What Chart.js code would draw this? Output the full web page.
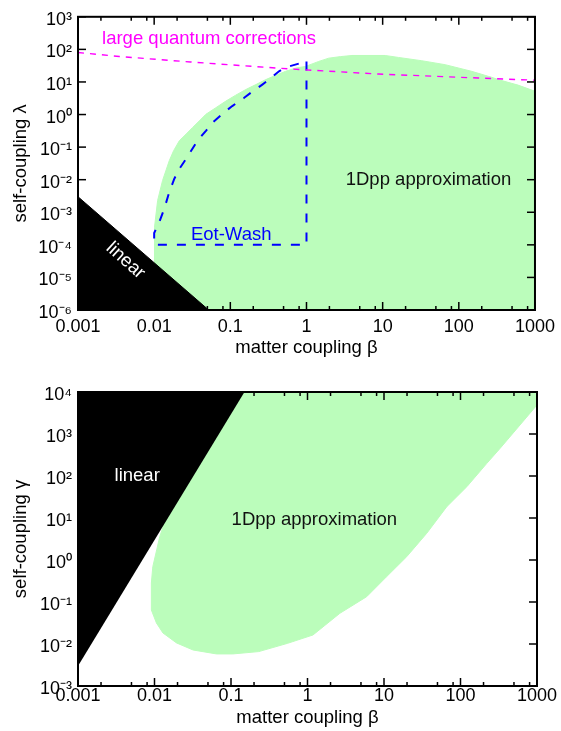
<!DOCTYPE html>
<html><head><meta charset="utf-8">
<script src="https://cdn.jsdelivr.net/npm/chart.js@4"></script>
<style>
html,body{margin:0;padding:0;background:#fff;}
#wrap{position:relative;width:561px;height:731px;overflow:hidden;}
canvas{position:absolute;left:0;}
#c1{top:0;} #c2{top:365px;}
</style></head><body>
<div id="wrap"><canvas id="c1" width="561" height="365"></canvas><canvas id="c2" width="561" height="366"></canvas></div>
<script>
// ---------- axis ticks ----------
const betaTicks = [0.001, 0.01, 0.1, 1, 10, 100, 1000];
const betaTickLabels = ['0.001', '0.01', '0.1', '1', '10', '100', '1000'];
const betaMinorFactors = [2, 5, 8];
const lambdaTicks = [1e-6, 1e-5, 1e-4, 1e-3, 1e-2, 1e-1, 1, 10, 100, 1000];
const lambdaTickLabels = ['10⁻⁶', '10⁻⁵', '10⁻⁴', '10⁻³', '10⁻²', '10⁻¹', '10⁰', '10¹', '10²', '10³'];
const gammaTicks = [1e-3, 1e-2, 1e-1, 1, 10, 100, 1000, 1e4];
const gammaTickLabels = ['10⁻³', '10⁻²', '10⁻¹', '10⁰', '10¹', '10²', '10³', '10⁴'];

// ---------- top panel (lambda) ----------
const linearTopBeta   = [0.001, 0.001, 0.052];
const linearTopLambda = [1e-6, 3e-3, 1e-6];

const dppTopBeta   = [0.0101, 0.0101, 0.0111, 0.0129, 0.0158, 0.018, 0.0214, 0.0262, 0.0319, 0.0391, 0.0478, 0.0646, 0.0873, 0.118, 0.160, 0.216, 0.292, 0.394, 0.532, 0.72, 0.973, 1.45, 1.96, 2.8, 3.96, 10.8, 16.2, 32.7, 66.2, 147.6, 270, 330, 600, 1000, 1000];
const dppTopLambda = [1e-6, 3.5e-4, 2.3e-3, 9.5e-3, 0.0385, 0.0776, 0.157, 0.25, 0.398, 0.637, 1.02, 1.62, 2.58, 3.94, 5.87, 8.3, 11.8, 16, 21.2, 26.7, 30, 42.7, 53.8, 60, 65, 65, 56.5, 44.8, 33.9, 21.2, 13.9, 11.8, 8, 5.2, 1e-6];

const eotBeta   = [1, 1, 0.01, 0.01, 0.0117, 0.0136, 0.0158, 0.0184, 0.0214, 0.0262, 0.037, 0.0478, 0.0583, 0.0873, 0.106, 0.152, 0.185, 0.263, 0.322, 0.436, 0.532, 1];
const eotLambda = [42.6, 1e-4, 1e-4, 2.3e-4, 5.1e-4, 1.3e-3, 4.2e-3, 0.0107, 0.0215, 0.0434, 0.157, 0.316, 0.565, 1.28, 1.82, 3.26, 4.62, 8.3, 11.8, 21.2, 28, 42.6];

const quantumBeta   = [0.001, 0.0035, 0.03, 0.3, 0.88, 8.85, 180, 1000];
const quantumLambda = [80, 60.5, 41, 28, 23.8, 17.5, 13.2, 11.3];

// ---------- bottom panel (gamma) ----------
const linearBotBeta  = [0.001, 0.001, 0.15];
const linearBotGamma = [3e-3, 1e4, 1e4];

const dppBotBeta  = [0.1, 1000, 1000, 330, 221, 121, 66.2, 36.2, 19.8, 10.8, 5.94, 2.65, 1.18, 0.551, 0.231, 0.106, 0.0646, 0.0319, 0.0194, 0.0129, 0.0106, 0.0091, 0.0091, 0.0095, 0.0117, 0.013, 0.005];
const dppBotGamma = [1e4, 1e4, 4900, 457, 200, 55.6, 18.6, 4.32, 1.2, 0.4, 0.134, 0.0538, 0.0164, 0.0104, 6.6e-3, 5.8e-3, 5.8e-3, 7.2e-3, 0.0106, 0.0183, 0.0316, 0.0646, 0.283, 0.69, 3.59, 6.3, 6.3];

// ---------- styling ----------
const FONT = "'Liberation Sans', Arial, Helvetica, sans-serif";
const GREEN = '#bbfdbb';
const PINK = '#ff00ff';
const BLUE = '#0000ff';

function pts(xs, ys) { return xs.map((x, i) => ({x: x, y: ys[i]})); }

function frameTicksPlugin(yTicks) {
  return {
    id: 'frameTicks',
    afterDatasetsDraw(chart) {
      const {ctx, chartArea: a, scales} = chart;
      const xs = scales.x, ys = scales.y;
      ctx.save();
      ctx.strokeStyle = '#000';
      ctx.lineCap = 'butt';
      const seg = (x1, y1, x2, y2) => { ctx.beginPath(); ctx.moveTo(x1, y1); ctx.lineTo(x2, y2); ctx.stroke(); };
      ctx.lineWidth = 1.5;
      betaTicks.forEach(v => {
        const p = xs.getPixelForValue(v);
        seg(p, a.bottom, p, a.bottom - 8); seg(p, a.top, p, a.top + 8);
      });
      for (let d = 0; d < betaTicks.length - 1; d++) {
        betaMinorFactors.forEach(f => {
          const p = xs.getPixelForValue(betaTicks[d] * f);
          seg(p, a.bottom, p, a.bottom - 4); seg(p, a.top, p, a.top + 4);
        });
      }
      yTicks.forEach(v => {
        const p = ys.getPixelForValue(v);
        seg(a.left, p, a.left + 8, p); seg(a.right, p, a.right - 8, p);
      });
      ctx.lineWidth = 2;
      ctx.strokeRect(a.left, a.top, a.right - a.left, a.bottom - a.top);
      ctx.restore();
    }
  };
}

function annotPlugin(items) {
  return {
    id: 'annot',
    afterDatasetsDraw(chart) {
      const {ctx, scales: {x, y}} = chart;
      items.forEach(t => {
        ctx.save();
        ctx.font = (t.size || 18.5) + 'px ' + FONT;
        ctx.fillStyle = t.color;
        ctx.textAlign = t.align;
        ctx.textBaseline = t.baseline;
        ctx.translate(x.getPixelForValue(t.x), y.getPixelForValue(t.y));
        if (t.rot) ctx.rotate(t.rot * Math.PI / 180);
        ctx.fillText(t.text, 0, 0);
        ctx.restore();
      });
    }
  };
}

function makeChart(id, c) {
  return new Chart(document.getElementById(id), {
    type: 'scatter',
    data: {datasets: c.datasets},
    options: {
      responsive: false, animation: false, events: [],
      layout: {padding: {left: 0, right: 24, top: c.top, bottom: 0}},
      plugins: {legend: {display: false}, tooltip: {enabled: false}},
      scales: {
        x: {
          type: 'logarithmic', position: 'bottom',
          min: betaTicks[0], max: betaTicks[betaTicks.length - 1],
          afterBuildTicks: s => { s.ticks = betaTicks.map(v => ({value: v, major: true})); },
          afterFit: s => { s.height = c.xHeight; },
          grid: {display: false, drawTicks: false}, border: {display: false},
          ticks: {autoSkip: false, maxRotation: 0, minRotation: 0, padding: c.xPad, color: '#000',
                  font: {family: FONT, size: 18}, callback: (v, i) => betaTickLabels[i]},
          title: {display: true, text: 'matter coupling β', color: '#000',
                  font: {family: FONT, size: 18.5}, padding: {top: 0, bottom: c.xTitlePad}}
        },
        y: {
          type: 'logarithmic', position: 'left',
          min: c.yTicks[0], max: c.yTicks[c.yTicks.length - 1],
          afterBuildTicks: s => { s.ticks = c.yTicks.map(v => ({value: v, major: true})); },
          afterFit: s => { s.width = 78; },
          grid: {display: false, drawTicks: false}, border: {display: false},
          ticks: {autoSkip: false, padding: 6, labelOffset: 3, color: '#000',
                  font: {family: FONT, size: 18}, callback: (v, i) => c.yLabels[i]},
          title: {display: true, text: c.yTitle, color: '#000',
                  font: {family: FONT, size: 18.5}, padding: {top: 9.5, bottom: 0}}
        }
      }
    },
    plugins: [annotPlugin(c.annots), frameTicksPlugin(c.yTicks)]
  });
}

const lineBase = {showLine: true, pointRadius: 0, pointHoverRadius: 0, tension: 0};

makeChart('c1', {
  top: 15, xHeight: 55, xPad: 6, xTitlePad: 6.4,
  yTicks: lambdaTicks, yLabels: lambdaTickLabels, yTitle: 'self-coupling λ',
  datasets: [
    Object.assign({}, lineBase, {data: pts(quantumBeta, quantumLambda), borderColor: PINK, borderWidth: 1.4, borderDash: [6, 6], fill: false}),
    Object.assign({}, lineBase, {data: pts(eotBeta, eotLambda), borderColor: BLUE, borderWidth: 2, borderDash: [9, 10], fill: false}),
    Object.assign({}, lineBase, {data: pts(linearTopBeta, linearTopLambda), borderColor: '#000', backgroundColor: '#000', borderWidth: 1, fill: 'shape'}),
    Object.assign({}, lineBase, {data: pts(dppTopBeta, dppTopLambda), borderColor: GREEN, backgroundColor: GREEN, borderWidth: 1, fill: 'shape'})
  ],
  annots: [
    {text: 'large quantum corrections', x: 2.07e-3, y: 150, color: PINK, align: 'left', baseline: 'alphabetic'},
    {text: '1Dpp approximation', x: 40, y: 6.7e-3, color: '#111', align: 'center', baseline: 'alphabetic'},
    {text: 'Eot-Wash', x: 0.0304, y: 1.42e-4, color: BLUE, align: 'left', baseline: 'alphabetic'},
    {text: 'linear', x: 4.2e-3, y: 3.3e-5, color: '#fff', align: 'center', baseline: 'middle', rot: 42}
  ]
});

makeChart('c2', {
  top: 27, xHeight: 45, xPad: -1, xTitlePad: 2.4,
  yTicks: gammaTicks, yLabels: gammaTickLabels, yTitle: 'self-coupling γ',
  datasets: [
    Object.assign({}, lineBase, {data: pts(linearBotBeta, linearBotGamma), borderColor: '#000', backgroundColor: '#000', borderWidth: 1, fill: 'shape'}),
    Object.assign({}, lineBase, {data: pts(dppBotBeta, dppBotGamma), borderColor: GREEN, backgroundColor: GREEN, borderWidth: 1, fill: 'shape'})
  ],
  annots: [
    {text: 'linear', x: 5.94e-3, y: 100, color: '#fff', align: 'center', baseline: 'middle'},
    {text: '1Dpp approximation', x: 1.23, y: 6.8, color: '#111', align: 'center', baseline: 'alphabetic'}
  ]
});
</script>
</body></html>
